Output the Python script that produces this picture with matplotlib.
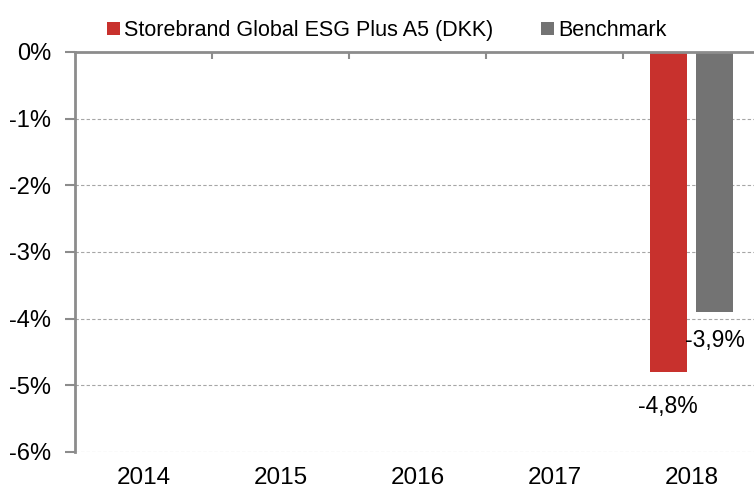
import matplotlib.pyplot as plt
import numpy as np

years = ["2014", "2015", "2016", "2017", "2018"]
fund = [np.nan, np.nan, np.nan, np.nan, -4.8]
bench = [np.nan, np.nan, np.nan, np.nan, -3.9]
series_names = ["Storebrand Global ESG Plus A5 (DKK)", "Benchmark"]
y_ticks = [0, -1, -2, -3, -4, -5, -6]

plt.rcParams['font.family'] = ['Liberation Sans', 'DejaVu Sans']

fig = plt.figure(figsize=(7.54, 4.91), dpi=100)
ax = fig.add_axes([75 / 754, 1 - 452 / 491, 685 / 754, 400 / 491])

x = np.arange(len(years))
w = 0.27
off = 0.17
red = "#C8312D"
grey = "#737373"
axis_col = "#8C8C8C"

ax.bar(x - off, fund, w, color=red, label=series_names[0])
ax.bar(x + off, bench, w, color=grey, label=series_names[1])

# data labels under the bars
for xi, v in zip(x, fund):
    if not np.isnan(v):
        ax.text(xi - off, v - 0.52, f"{v:.1f}%".replace(".", ","), ha="center", va="center", fontsize=16.5)
for xi, v in zip(x, bench):
    if not np.isnan(v):
        ax.text(xi + off, v - 0.42, f"{v:.1f}%".replace(".", ","), ha="center", va="center", fontsize=16.5)

ax.set_xlim(-0.5, 4.5)
ax.set_ylim(-6, 0)
ax.set_yticks(y_ticks)
ax.set_yticklabels([f"{t}%" for t in y_ticks], fontsize=17)
for t in y_ticks[1:]:
    ax.axhline(t, color="#A6A6A6", linestyle=(0, (3, 2)), linewidth=0.8, zorder=0)

ax.set_xticks(x)
ax.set_xticklabels(years, fontsize=17.5)
ax.set_xticks(x[:-1] + 0.5, minor=True)
ax.tick_params(axis="x", which="major", length=0, pad=11)
ax.tick_params(axis="x", which="minor", top=True, bottom=False, direction="in", length=5, color=axis_col, width=1.5)
ax.tick_params(axis="y", direction="out", length=7, color=axis_col, width=1.5, pad=10)

for s in ["right", "bottom"]:
    ax.spines[s].set_visible(False)
for s in ["left", "top"]:
    ax.spines[s].set_color(axis_col)
    ax.spines[s].set_linewidth(2)

ax.legend(loc="lower center", bbox_to_anchor=(0.455, 1.0), ncol=2, frameon=False,
          fontsize=15.5, handlelength=0.6, handleheight=0.6, handletextpad=0.2, columnspacing=2.2,
          borderaxespad=0.1)

fig.savefig("out.png", dpi=100)
